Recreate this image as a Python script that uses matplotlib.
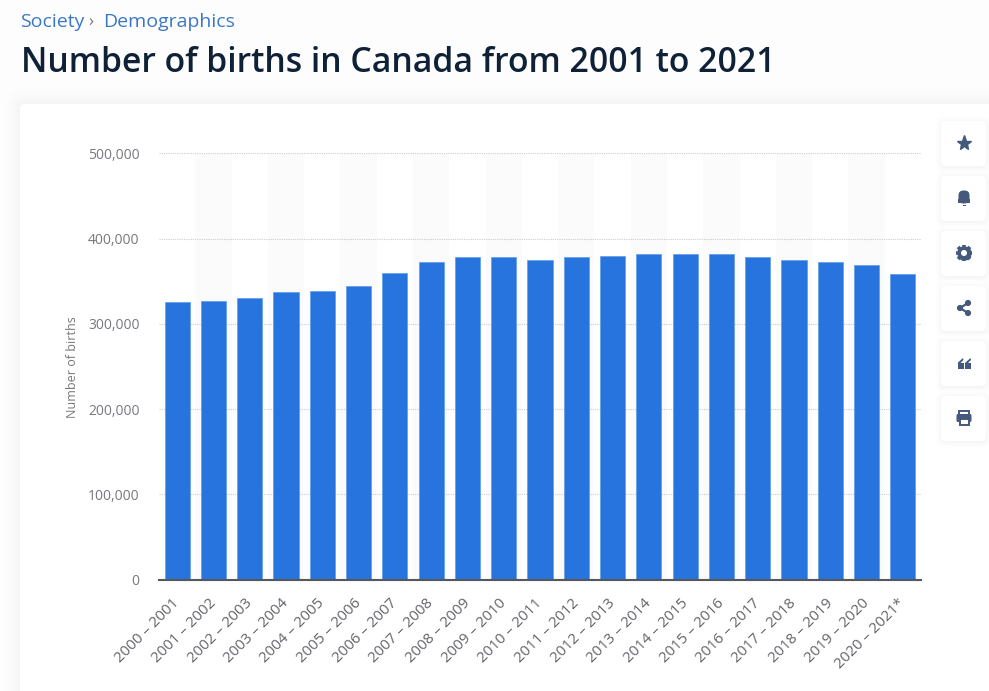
import matplotlib
matplotlib.use("Agg")
import matplotlib.pyplot as plt
from matplotlib.patches import FancyBboxPatch, Rectangle, Circle, Polygon
from matplotlib.transforms import ScaledTranslation

W, H = 989, 691
seasons = ["2000 – 2001", "2001 – 2002", "2002 – 2003", "2003 – 2004", "2004 – 2005",
           "2005 – 2006", "2006 – 2007", "2007 – 2008", "2008 – 2009", "2009 – 2010",
           "2010 – 2011", "2011 – 2012", "2012 – 2013", "2013 – 2014", "2014 – 2015",
           "2015 – 2016", "2016 – 2017", "2017 – 2018", "2018 – 2019", "2019 – 2020",
           "2020 – 2021*"]
births = [325500, 326500, 330000, 337000, 339000, 344500, 359500, 372500, 378000, 378000,
          375500, 378000, 379500, 381500, 382500, 382500, 378000, 375500, 372500, 369500,
          358000]
y_ticks = [0, 100000, 200000, 300000, 400000, 500000]

plt.rcParams["font.family"] = ["Open Sans", "DejaVu Sans"]
fig = plt.figure(figsize=(W / 100, H / 100), dpi=100, facecolor="#fdfdfe")

# page overlay in pixel coordinates
bg = fig.add_axes([0, 0, 1, 1], zorder=0)
bg.set_xlim(0, W); bg.set_ylim(H, 0); bg.axis("off")
for i, a in zip(range(14, 0, -2), [.004, .005, .006, .007, .008, .009, .01]):
    bg.add_patch(FancyBboxPatch((20 - i, 104 - i), 1000, 700, boxstyle=f"round,pad=0,rounding_size={4+i}",
                                fc="#8090a0", ec="none", alpha=a))
bg.add_patch(FancyBboxPatch((20, 104), 1000, 700, boxstyle="round,pad=0,rounding_size=4", fc="white", ec="none"))

bg.text(20, 22, "Society", color="#3a78c6", fontsize=14, va="center")
bg.text(88, 22, "›", color="#66717e", fontsize=12, va="center")
bg.text(103, 22, "Demographics", color="#3a78c6", fontsize=14, va="center")
bg.text(21, 63, "Number of births in Canada from 2001 to 2021", color="#0f2137",
        fontsize=24.3, fontweight="semibold", va="center")

# chart
L, R, T, B = 159, 921, 153.5, 579.5
ax = fig.add_axes([L / W, 1 - B / H, (R - L) / W, (B - T) / H], zorder=1)
ax.patch.set_alpha(0)
x = list(range(len(seasons)))
for i in x[1::2]:
    ax.axvspan(i - .5, i + .5, color="#fbfbfb", lw=0, zorder=0)
ax.bar(x, births, width=0.69, color="#2874de", edgecolor="#5f9bea", linewidth=0.5, zorder=3)
ax.set_xlim(-.5, len(seasons) - .5)
ax.set_ylim(0, 500000)
ax.set_yticks(y_ticks)
ax.set_yticklabels([f"{v:,}" for v in y_ticks], color="#76787c", fontsize=10)
ax.set_xticks(x)
ax.set_xticklabels(seasons, rotation=45, ha="right", va="top", rotation_mode="anchor",
                   color="#626468", fontsize=10.8)
ax.tick_params(axis="y", length=0, pad=14)
ax.tick_params(axis="x", length=0, pad=9)
shift = ScaledTranslation(-5 / 100, -4 / 100, fig.dpi_scale_trans)
for lab in ax.get_xticklabels():
    lab.set_transform(lab.get_transform() + shift)
ax.grid(axis="y", color="#cccccc", linestyle=(0, (1, 1)), linewidth=.8, zorder=1, clip_on=False)
ax.set_axisbelow(True)
for s in ["top", "left", "right"]:
    ax.spines[s].set_visible(False)
ax.spines["bottom"].set_color("#55585c")
ax.spines["bottom"].set_linewidth(1.5)
ax.spines["bottom"].set_zorder(5)
bg.text(72.5, 367, "Number of births", rotation=90, color="#76787c", fontsize=9, ha="center", va="center")

# side buttons
fg = fig.add_axes([0, 0, 1, 1], zorder=2)
fg.set_xlim(0, W); fg.set_ylim(H, 0); fg.axis("off")
col = "#44597c"
centers = [143, 198, 253, 308, 363, 418]
for cy in centers:
    for i, a in zip([5, 3, 1], [.015, .02, .03]):
        fg.add_patch(FancyBboxPatch((941 - i, cy - 22 - i + 1), 45 + 2 * i, 45 + 2 * i,
                                    boxstyle="round,pad=0,rounding_size=6", fc="#8090a0", ec="none", alpha=a))
    fg.add_patch(FancyBboxPatch((941, cy - 22), 45, 45, boxstyle="round,pad=0,rounding_size=5", fc="white", ec="none"))
cx = 964
fg.plot([cx], [143], marker="*", ms=11, color=col, mec=col)
# bell
fg.add_patch(FancyBboxPatch((cx - 5.5, 190.5), 11, 13, boxstyle="round,pad=0,rounding_size=5", fc=col, ec="none"))
fg.add_patch(Rectangle((cx - 6, 199), 12, 4, fc=col, ec="none"))
fg.add_patch(Rectangle((cx - 1.5, 204.5), 3, 1, fc=col, ec="none"))
# gear
fg.plot([cx], [253], marker="8", ms=10, color=col, mec=col)
fg.plot([cx], [253], marker="+", ms=11, mew=2.6, color=col)
fg.plot([cx], [253], marker="x", ms=8.5, mew=2.6, color=col)
fg.add_patch(Circle((cx, 253), 3, fc="white", ec="none", zorder=5))
# share
fg.plot([cx + 4, cx - 4, cx + 4], [303, 308, 313], color=col, lw=1.6)
for px, py in [(cx + 4, 303), (cx - 4, 308), (cx + 4, 313)]:
    fg.add_patch(Circle((px, py), 3.1, fc=col, ec="none"))
# quote
for ox in [cx - 6.5, cx + 1]:
    fg.add_patch(Rectangle((ox, 362.5), 6, 6.5, fc=col, ec="none"))
    fg.add_patch(Polygon([(ox, 363), (ox + 5.5, 358), (ox + 6, 360), (ox + 3, 363)], fc=col, ec="none"))
# printer
fg.add_patch(Rectangle((cx - 5, 410.5), 10, 4, fc="white", ec=col, lw=1.4))
fg.add_patch(FancyBboxPatch((cx - 7.5, 414), 15, 8, boxstyle="round,pad=0,rounding_size=1.5", fc=col, ec="none"))
fg.add_patch(Rectangle((cx - 4.5, 418.5), 9, 6, fc="white", ec=col, lw=1.4))

fig.savefig("out.png", dpi=100, facecolor=fig.get_facecolor())
